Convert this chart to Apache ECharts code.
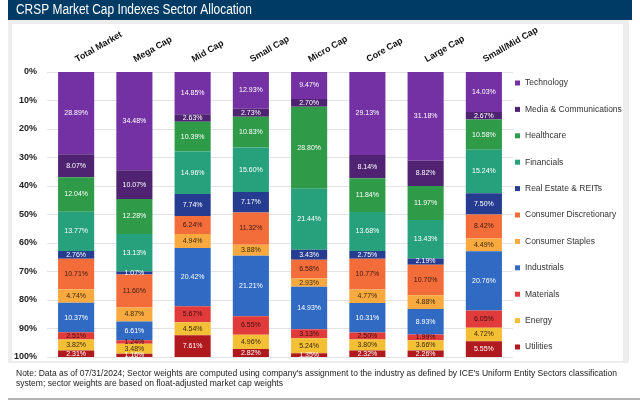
<!DOCTYPE html>
<html><head><meta charset="utf-8">
<script src="https://cdn.jsdelivr.net/npm/echarts@6/dist/echarts.min.js"></script>
<style>html,body{margin:0;padding:0;background:#fff}#c{width:640px;height:410px}</style>
</head><body><div id="c"></div>
<script>
const categories = ['Total Market','Mega Cap','Mid Cap','Small Cap','Micro Cap','Core Cap','Large Cap','Small/Mid Cap'];
const sectors = ['Technology','Media & Communications','Healthcare','Financials','Real Estate & REITs','Consumer Discretionary','Consumer Staples','Industrials','Materials','Energy','Utilities'];
const technology    = [28.89, 34.48, 14.85, 12.93, 9.47, 29.13, 31.18, 14.03];
const media         = [8.07, 10.07, 2.63, 2.73, 2.70, 8.14, 8.82, 2.67];
const healthcare    = [12.04, 12.28, 10.39, 10.83, 28.80, 11.84, 11.97, 10.58];
const financials    = [13.77, 13.13, 14.96, 15.60, 21.44, 13.68, 13.43, 15.24];
const realEstate    = [2.76, 1.07, 7.74, 7.17, 3.43, 2.75, 2.19, 7.50];
const consDisc      = [10.71, 11.60, 6.24, 11.32, 6.58, 10.77, 10.70, 8.42];
const consStaples   = [4.74, 4.87, 4.94, 3.88, 2.93, 4.77, 4.88, 4.49];
const industrials   = [10.37, 6.61, 20.42, 21.21, 14.93, 10.31, 8.93, 20.76];
const materials     = [2.51, 1.24, 5.67, 6.55, 3.13, 2.50, 1.99, 6.05];
const energy        = [3.82, 3.48, 4.54, 4.96, 5.24, 3.80, 3.66, 4.72];
const utilities     = [2.31, 1.16, 7.61, 2.82, 1.35, 2.32, 2.26, 5.55];
const seriesValues = [technology, media, healthcare, financials, realEstate, consDisc, consStaples, industrials, materials, energy, utilities];
const titleText = 'CRSP Market Cap Indexes Sector Allocation';
const noteText = "Note: Data as of 07/31/2024; Sector weights are computed using company's assignment to the industry as defined by ICE's Uniform Entity Sectors classification\nsystem; sector weights are based on float-adjusted market cap weights";
const colors = ['#7431A4','#4F2372','#2F9A48','#27A17B','#263C90','#F36D3B','#F8A93F','#306AC3','#E13B3B','#F3BF34','#B01A1F'];
const labelColors = ['#fff','#fff','#fff','#fff','#fff','#3a1a10','#3a2a10','#fff','#3a1010','#3a2a10','#fff'];

const FONT = 'Liberation Sans, Arial, sans-serif';
const ctx = document.createElement('canvas').getContext('2d');
function measure(t, size) { ctx.font = size + 'px ' + FONT; return ctx.measureText(t).width; }
const titleScale = 236 / measure(titleText, 14);
const noteScale = 601 / measure(noteText.split('\n')[0], 9);

const chart = echarts.init(document.getElementById('c'), null, {renderer:'canvas'});
const series = sectors.map((name, i) => ({
  name, type:'bar', stack:'total', barWidth:'62%',
  data: seriesValues[i],
  itemStyle:{color:colors[i]},
  label:{show:true, position:'inside', fontSize:7, fontFamily:FONT,
    color:labelColors[i], formatter:p => p.value.toFixed(2)+'%'}
}));

chart.setOption({
  animation:false,
  backgroundColor:'#fff',
  graphic:[
    {type:'rect', shape:{x:8,y:0,width:624,height:20}, style:{fill:'#003B66'}, z:-10},
    {type:'rect', shape:{x:8,y:20,width:621,height:343}, style:{fill:'#EDEDED'}, z:-10},
    {type:'rect', shape:{x:12,y:24,width:611,height:337}, style:{fill:'#FFFFFF'}, z:-9},
    {type:'line', shape:{x1:8,y1:399,x2:640,y2:399}, style:{stroke:'#9A9A9A', lineWidth:1.5}},
    {type:'text', x:16, y:10, scaleX:titleScale, style:{text:titleText, fontSize:14, fontFamily:FONT, fill:'#fff', verticalAlign:'middle'}},
    {type:'text', x:16, y:369, scaleX:noteScale, style:{text:noteText, fontSize:9, lineHeight:10, fontFamily:FONT, fill:'#222'}}
  ],
  legend:{orient:'vertical', left:515, top:77, padding:0, itemWidth:5, itemHeight:5, itemGap:14.4, icon:'rect',
    textStyle:{fontSize:8.5, lineHeight:12, color:'#333', fontFamily:FONT},
    data:sectors},
  grid:{left:47, right:127, top:72, bottom:53},
  xAxis:{type:'category', position:'top', data:categories,
    axisLine:{show:false}, axisTick:{show:false},
    axisLabel:{rotate:30, margin:12, fontSize:9, fontWeight:'bold', color:'#111', fontFamily:FONT}},
  yAxis:{type:'value', inverse:true, min:0, max:100, interval:10,
    axisLine:{show:false}, axisTick:{show:false},
    splitLine:{lineStyle:{color:'#E3E3E3'}},
    axisLabel:{formatter:'{value}%', margin:10, fontSize:9, fontWeight:'bold', color:'#222', fontFamily:FONT}},
  series
});
</script></body></html>
